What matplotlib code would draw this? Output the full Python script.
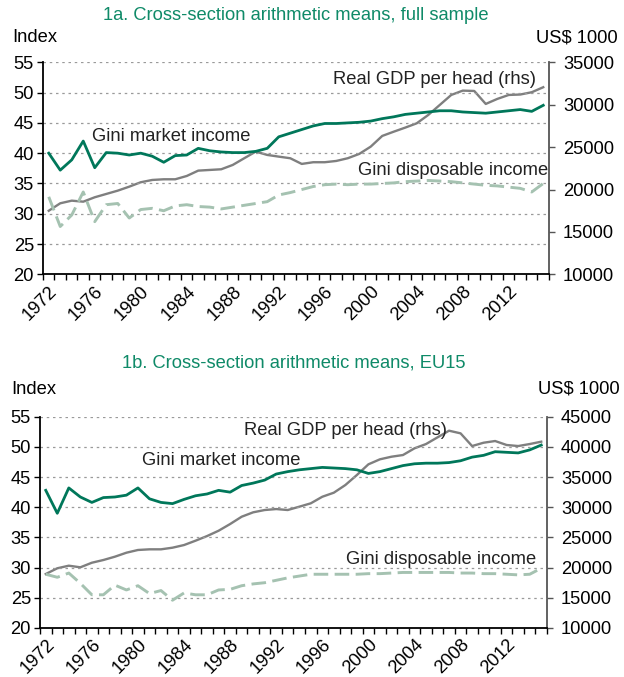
import numpy as np
import matplotlib
matplotlib.use("Agg")
import matplotlib.pyplot as plt
from matplotlib.ticker import FixedLocator

plt.rcParams['font.family'] = ['Liberation Sans', 'DejaVu Sans']

years = list(range(1972, 2016))

# 1a. full sample
mkt_full = [40.0, 37.2, 38.9, 42.0, 37.6, 40.1, 40.0, 39.7, 40.0, 39.5, 38.5, 39.6, 39.7,
            40.8, 40.4, 40.2, 40.1, 40.1, 40.3, 40.8, 42.7, 43.3, 43.9, 44.5, 44.9, 44.9,
            45.0, 45.1, 45.3, 45.7, 46.0, 46.4, 46.6, 46.8, 47.0, 47.0, 46.8, 46.7, 46.6,
            46.8, 47.0, 47.2, 46.9, 47.9]
disp_full = [32.8, 27.9, 29.8, 33.6, 28.7, 31.5, 31.7, 29.3, 30.7, 30.9, 30.5, 31.3, 31.5,
             31.2, 31.1, 30.8, 31.1, 31.4, 31.7, 32.0, 33.1, 33.5, 34.0, 34.5, 34.8, 34.9,
             34.8, 34.9, 34.9, 35.0, 35.1, 35.3, 35.4, 35.5, 35.4, 35.3, 35.1, 34.9, 34.7,
             34.6, 34.4, 34.2, 33.6, 35.0]
gdp_full = [17500, 18380, 18690, 18570, 19090, 19480, 19870, 20340, 20860, 21130, 21210,
            21210, 21600, 22230, 22310, 22390, 22900, 23690, 24470, 24080, 23880, 23690,
            23020, 23220, 23220, 23370, 23690, 24200, 25060, 26320, 26820, 27300, 27810,
            28790, 29970, 31150, 31660, 31620, 30090, 30680, 31150, 31200, 31470, 32060]

# 1b. EU15
mkt_eu = [42.8, 39.0, 43.2, 41.7, 40.8, 41.6, 41.7, 42.0, 43.2, 41.4, 40.8, 40.6, 41.3,
          41.9, 42.2, 42.8, 42.5, 43.6, 44.0, 44.5, 45.5, 45.9, 46.2, 46.4, 46.6, 46.5,
          46.4, 46.2, 45.6, 45.9, 46.4, 46.9, 47.2, 47.3, 47.3, 47.4, 47.7, 48.3, 48.6,
          49.2, 49.1, 49.0, 49.5, 50.3]
disp_eu = [28.9, 28.4, 29.1, 27.4, 25.5, 25.5, 27.1, 26.3, 27.0, 25.7, 26.2, 24.6, 25.8,
           25.5, 25.5, 26.3, 26.4, 27.0, 27.3, 27.5, 27.9, 28.3, 28.6, 28.9, 28.9, 28.9,
           28.9, 28.9, 29.0, 29.0, 29.1, 29.2, 29.2, 29.2, 29.2, 29.2, 29.1, 29.1, 29.0,
           29.0, 28.9, 28.8, 28.9, 29.9]
gdp_eu = [18940, 19890, 20320, 20050, 20810, 21260, 21810, 22470, 22920, 23030, 23030,
          23300, 23740, 24460, 25230, 26110, 27220, 28430, 29160, 29540, 29700, 29540,
          30090, 30650, 31740, 32410, 33680, 35340, 37110, 37940, 38370, 38650, 39760,
          40470, 41580, 42680, 42240, 40140, 40690, 40970, 40310, 40140, 40470, 40860]

left_ticks = [20, 25, 30, 35, 40, 45, 50, 55]
right_ticks_a = [10000, 15000, 20000, 25000, 30000, 35000]
right_ticks_b = [10000, 15000, 20000, 25000, 30000, 35000, 40000, 45000]
year_labels = list(range(1972, 2013, 4))

GREEN = '#00775a'
GREY = '#7f7f7f'
LIGHT = '#a5c2b1'
TITLE = '#0f8a68'
FS = 13.2


def panel(rect, mkt, disp, gdp, rticks, title, labels, ix, iy, ux, ty):
    ax = fig.add_axes(rect)
    ax2 = ax.twinx()
    x = np.array(years)
    ax.plot(x, disp, color=LIGHT, lw=2.1, dashes=(5, 2.2), zorder=3)
    ax.plot(x, mkt, color=GREEN, lw=2.0, zorder=4)
    ax2.plot(x, gdp, color=GREY, lw=1.7, zorder=3)
    ax.set_zorder(ax2.get_zorder() + 1)
    ax.patch.set_visible(False)

    ax.set_xlim(1971.5, 2015.5)
    ax.set_ylim(20, 55)
    ax2.set_ylim(rticks[0], rticks[-1])
    ax.set_yticks(left_ticks)
    ax2.set_yticks(rticks)
    ax.set_xticks(year_labels)
    ax.set_xticklabels([str(y) for y in year_labels], rotation=45,
                       ha='right', va='top', rotation_mode='anchor')
    ax.xaxis.set_minor_locator(FixedLocator(np.arange(1971.5, 2016, 1)))
    ax.tick_params(axis='x', which='major', length=0, pad=6, labelsize=FS)
    ax.tick_params(axis='x', which='minor', length=4, width=1)
    ax.tick_params(axis='y', length=4, width=1, labelsize=FS, pad=2.5)
    ax2.tick_params(axis='y', length=4, width=1, labelsize=FS, pad=6, color='#555555')

    for a in (ax, ax2):
        a.spines['top'].set_visible(False)
    ax.spines['right'].set_visible(False)
    ax2.spines['left'].set_visible(False)
    ax2.spines['bottom'].set_visible(False)
    ax2.spines['right'].set_color('#555555')
    ax2.spines['right'].set_linewidth(1.3)
    ax.spines['left'].set_linewidth(1.3)
    ax.spines['bottom'].set_linewidth(1.3)

    for v in left_ticks[1:]:
        ax.axhline(v, color='#9a9a9a', lw=0.9, ls=(0, (2, 3)), zorder=1)

    ax.text(ix, iy, 'Index', transform=ax.transAxes, ha='left', va='center',
            fontsize=FS)
    ax.text(ux, iy, 'US$ 1000', transform=ax.transAxes, ha='right',
            va='center', fontsize=FS)
    ax.text(0.5, ty, title, transform=ax.transAxes, ha='center', va='center',
            fontsize=FS, color=TITLE)
    for (tx, tyy, s, ha, a) in labels:
        (ax if a == 'l' else ax2).text(tx, tyy, s, fontsize=FS, ha=ha, va='center',
                                       color='#222222', zorder=6)
    return ax, ax2


fig = plt.figure(figsize=(6.24, 6.77), dpi=100)

panel([0.0689, 0.5947, 0.8109, 0.3133], mkt_full, disp_full, gdp_full, right_ticks_a,
      '1a. Cross-section arithmetic means, full sample',
      [(1975.8, 42.8, 'Gini market income', 'left', 'l'),
       (2014.4, 32950, 'Real GDP per head (rhs)', 'right', 'r'),
       (2015.4, 37.1, 'Gini disposable income', 'right', 'l')],
      -0.061, 1.115, 1.136, 1.219)

panel([0.0641, 0.0724, 0.8125, 0.3121], mkt_eu, disp_eu, gdp_eu, right_ticks_b,
      '1b. Cross-section arithmetic means, EU15',
      [(1980.35, 47.7, 'Gini market income', 'left', 'l'),
       (2006.8, 42750, 'Real GDP per head (rhs)', 'right', 'r'),
       (2014.6, 31.4, 'Gini disposable income', 'right', 'l')],
      -0.056, 1.131, 1.144, 1.254)

fig.savefig('out.png', dpi=100)
